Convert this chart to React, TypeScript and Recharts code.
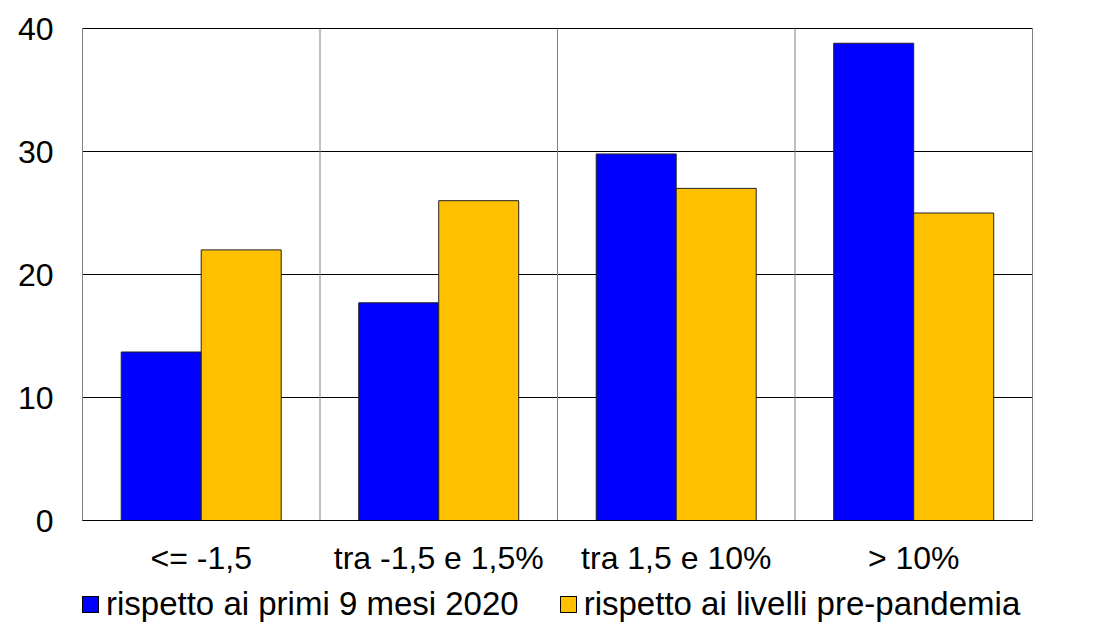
import React from "react";
import {Bar, BarChart, CartesianGrid, Legend, ReferenceLine, XAxis, YAxis} from "recharts";

const categories = ["<= -1,5", "tra -1,5 e 1,5%", "tra 1,5 e 10%", "> 10%"];
const primi9Mesi = [13.7, 17.7, 29.8, 38.8];
const prePandemia = [22, 26, 27, 25];
const yTicks = [0, 10, 20, 30, 40];

const seriesNames = ["rispetto ai primi 9 mesi 2020", "rispetto ai livelli pre-pandemia"];
const seriesColors = ["#0000FF", "#FFC000"];

const data = categories.map((c, i) => ({
    cat: c,
    a: primi9Mesi[i],
    b: prePandemia[i],
}));

const font = "'Liberation Sans', Arial, sans-serif";

function renderLegend() {
    return (
        <div style={{display: "flex", paddingLeft: 82, paddingTop: 2, height: 36, lineHeight: "36px",
            fontFamily: font, fontSize: 33, color: "#000"}}>
            {seriesNames.map((name, i) => (
                <div key={name} style={{display: "flex", alignItems: "center", marginRight: i === 0 ? 41 : 0}}>
                    <span style={{display: "inline-block", width: 15, height: 15, background: seriesColors[i],
                        border: "1px solid #000", marginRight: 7}}/>
                    <span>{name}</span>
                </div>
            ))}
        </div>
    );
}

export default function App() {
    const tickStyle = {fontSize: 32, fill: "#000", fontFamily: font};
    return (
        <div style={{position: "absolute", left: 0, top: 0, background: "#fff"}}>
            <BarChart width={1104} height={622} data={data}
                      margin={{top: 28.5, right: 0, bottom: 0, left: 0}}
                      barCategoryGap="16.3%" barGap={0}>
                <CartesianGrid vertical={false} stroke="#000" strokeOpacity={1}
                               yAxisId="left"/>
                <XAxis dataKey="cat" height={63.5} tickLine={false} tickSize={0} tickMargin={26}
                       axisLine={{stroke: "#000"}} tick={tickStyle} interval={0}/>
                <YAxis yAxisId="left" orientation="left" width={82.5} domain={[0, 40]} ticks={yTicks}
                       axisLine={false} tickLine={false} tickSize={0} tickMargin={29} tick={tickStyle}/>
                <YAxis yAxisId="right" orientation="right" width={71.5} domain={[0, 40]} ticks={yTicks}
                       axisLine={false} tickLine={false} tickSize={0} tickMargin={30} tick={tickStyle}/>
                {categories.map((c) => (
                    <ReferenceLine key={c} x={c} yAxisId="left" position="start" stroke="#808080"/>
                ))}
                <ReferenceLine x={categories[categories.length - 1]} yAxisId="left" position="end"
                               stroke="#808080"/>
                <Bar yAxisId="left" dataKey="a" name={seriesNames[0]} fill={seriesColors[0]}
                     stroke="#222" strokeWidth={1} isAnimationActive={false}/>
                <Bar yAxisId="left" dataKey="b" name={seriesNames[1]} fill={seriesColors[1]}
                     stroke="#222" strokeWidth={1} isAnimationActive={false}/>
                <Legend verticalAlign="bottom" content={renderLegend}/>
            </BarChart>
        </div>
    );
}
